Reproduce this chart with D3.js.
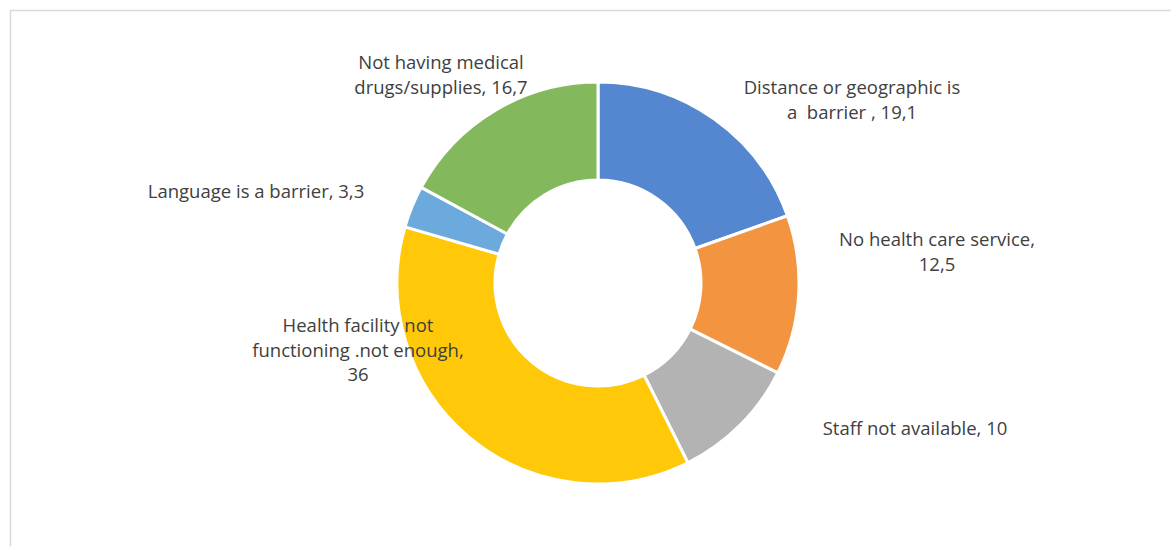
<!DOCTYPE html>
<html lang="en">
<head>
    <meta charset="utf-8">
    <title>Barriers donut</title>
    <script src="https://cdn.jsdelivr.net/npm/d3@7/dist/d3.min.js"></script>
    <style type="text/css">
        body {
            margin: 0;
            background: #fff;
        }

        .label {
            font-family: "Open Sans", "Liberation Sans", sans-serif;
            font-size: 18.5px;
            fill: #404040;
            white-space: pre;
        }
    </style>
</head>
<body>
    <div id="chart"></div>
    <script>
        // data
        var categories = [
            "Distance or geographic is a barrier",
            "No health care service",
            "Staff not available",
            "Health facility not functioning .not enough",
            "Language is a barrier",
            "Not having medical drugs/supplies"
        ];
        var values = [19.1, 12.5, 10, 36, 3.3, 16.7];
        var valueLabels = ["19,1", "12,5", "10", "36", "3,3", "16,7"];

        // label text as shown, split into lines
        var labelLines = [
            ["Distance or geographic is", "a  barrier , 19,1"],
            ["No health care service,", "12,5"],
            ["Staff not available, 10"],
            ["Health facility not", "functioning .not enough,", "36"],
            ["Language is a barrier, 3,3"],
            ["Not having medical", "drugs/supplies, 16,7"]
        ];

        var colors = ["#5586d0", "#f39441", "#b3b3b3", "#ffc90a", "#6caadd", "#83b95c"];

        var width = 1171, height = 546;
        var cx = 598, cy = 283;
        var outerR = 201, innerR = 103;

        // label anchor offsets from the donut center (manually placed, like the original)
        var labelOffsets = [[254, -189], [339, -37], [317, 152], [-240, 49], [-342, -85], [-157, -214]];
        var lineHeight = 24.5;

        var svg = d3.select("#chart")
            .append("svg")
            .attr("width", width)
            .attr("height", height);

        // chart frame
        svg.append("rect")
            .attr("x", 10.5)
            .attr("y", 10.5)
            .attr("width", 1300)
            .attr("height", 700)
            .attr("fill", "none")
            .attr("stroke", "#d9d9d9")
            .attr("stroke-width", 1.5);

        var pie = d3.pie().sort(null).value(function (d) { return d; });
        var arc = d3.arc().innerRadius(innerR).outerRadius(outerR);

        var g = svg.append("g")
            .attr("transform", "translate(" + cx + "," + cy + ")");

        g.selectAll("path")
            .data(pie(values))
            .enter()
            .append("path")
            .attr("d", arc)
            .attr("fill", function (d, i) { return colors[i]; })
            .attr("stroke", "#fff")
            .attr("stroke-width", 3)
            .attr("stroke-linejoin", "miter");

        // data labels
        var labels = g.selectAll("text.label")
            .data(labelLines)
            .enter()
            .append("text")
            .attr("class", "label")
            .attr("text-anchor", "middle")
            .attr("x", function (d, i) { return labelOffsets[i][0]; })
            .attr("y", function (d, i) { return labelOffsets[i][1]; });

        labels.selectAll("tspan")
            .data(function (d, i) { return d.map(function (t) { return { t: t, x: labelOffsets[i][0] }; }); })
            .enter()
            .append("tspan")
            .attr("x", function (d) { return d.x; })
            .attr("dy", function (d, j) { return j === 0 ? 0 : lineHeight; })
            .text(function (d) { return d.t; });
    </script>
</body>
</html>
